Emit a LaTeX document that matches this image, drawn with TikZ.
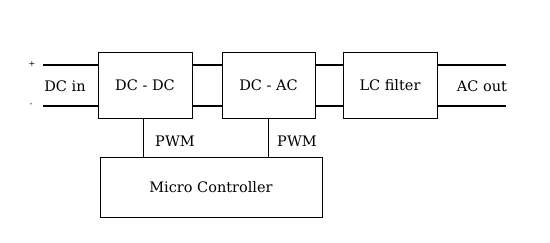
\documentclass[tikz,border=0pt]{standalone}
\usepackage{fontspec}
\setmainfont{DejaVu Serif}
\usetikzlibrary{positioning, calc}

\begin{document}
\begin{tikzpicture}[x=1pt, y=-1pt,
	block/.style={draw=black, line width=0.8pt, fill=white, minimum width=94pt, minimum height=66pt, inner sep=0pt, font=\fontsize{14.5}{17}\selectfont},
	wire/.style={black, line width=1.9pt},
	ctrl/.style={black, line width=0.8pt},
	label/.style={inner sep=0pt, font=\fontsize{14.5}{17}\selectfont}]
	% Fixed canvas
	\useasboundingbox[fill=white] (0,0) rectangle (550,242);
	
	% Power stage blocks
	\node[block] (dcdc) at (145,85) {DC - DC};
	\node[block, minimum width=93pt] (dcac) at (268.5,85) {DC - AC};
	\node[block] (lcf) at (390,85) {LC filter};
	
	% Controller
	\node[block, minimum width=222pt, minimum height=60pt] (mcu) at (211,187) {Micro Controller};
	
	% Terminals
	\coordinate (inP) at (43,65);
	\coordinate (inN) at (43,106);
	\coordinate (outP) at (506,65);
	\coordinate (outN) at (506,106);
	\node[label, font=\fontsize{8}{9}\selectfont] (plus) at (32,64) {+};
	\node[label, font=\fontsize{8}{9}\selectfont] (minus) at (31,105) {-};
	\node[label] (dcin) at (65,86) {DC in};
	\node[label] (acout) at (482,86) {AC out};
	
	% Power wires
	\draw[wire] (inP) -- (inP -| dcdc.west);
	\draw[wire] (inN) -- (inN -| dcdc.west);
	\draw[wire] ([yshift=20pt]dcdc.east) -- ([yshift=20pt]dcac.west);
	\draw[wire] ([yshift=-21pt]dcdc.east) -- ([yshift=-21pt]dcac.west);
	\draw[wire] ([yshift=20pt]dcac.east) -- ([yshift=20pt]lcf.west);
	\draw[wire] ([yshift=-21pt]dcac.east) -- ([yshift=-21pt]lcf.west);
	\draw[wire] (outP -| lcf.east) -- (outP);
	\draw[wire] (outN -| lcf.east) -- (outN);
	
	% PWM signals
	\draw[ctrl] ([xshift=-2pt]dcdc.south) -- ([xshift=-2pt]dcdc.south |- mcu.north);
	\draw[ctrl] (dcac.south) -- (dcac.south |- mcu.north);
	\node[label] (pwmA) at (175,141) {PWM};
	\node[label] (pwmB) at (297,141) {PWM};
\end{tikzpicture}
\end{document}
